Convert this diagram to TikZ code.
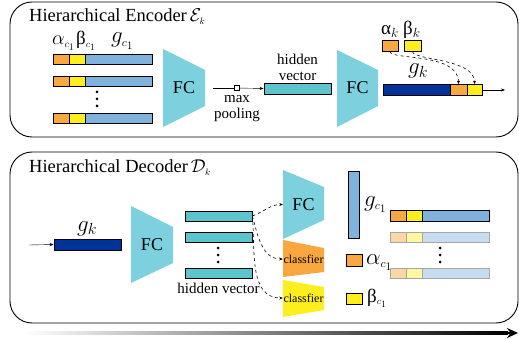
\RequirePackage{fix-cm}
\documentclass[tikz,border=0pt]{standalone}
\usepackage[dvipsnames]{xcolor}
\usepackage{tikz}
\usepackage{amsmath, amsfonts, amssymb}
\usepackage{fontspec}
\setmainfont{Liberation Serif}
\usetikzlibrary{arrows.meta}
\definecolor{barorange}{RGB}{249,167,62}
\definecolor{baryellow}{RGB}{255,238,30}
\definecolor{barblue}{RGB}{127,178,220}
\definecolor{hidteal}{RGB}{92,196,204}
\definecolor{fccyan}{RGB}{125,208,221}
\definecolor{gkblue}{RGB}{0,51,153}
\definecolor{lorange}{RGB}{253,214,165}
\definecolor{lyellow}{RGB}{255,247,160}
\definecolor{lblue}{RGB}{198,220,240}

\begin{document}
\begin{tikzpicture}[x=1pt,y=-1pt]
					\tikzstyle{seg}=[draw=black,line width=0.8pt,inner sep=0pt,minimum height=10pt]
					\tikzstyle{fade}=[draw=black!35,line width=0.8pt,inner sep=0pt,minimum height=10pt]
					\tikzstyle{frame}=[draw=black,line width=0.9pt,rounded corners=22pt]
					\tikzstyle{fcbox}=[inner sep=0pt,font=\fontsize{18}{20}\selectfont]
					\tikzstyle{lbl}=[inner sep=0pt,anchor=base west,font=\fontsize{19}{22}\selectfont]
					\tikzstyle{mlbl}=[inner sep=0pt,anchor=base west,font=\fontsize{23}{26}\selectfont]
					\tikzstyle{txt}=[inner sep=0pt,align=center,font=\fontsize{15}{16}\selectfont]
					\tikzstyle{flow}=[dashed,line width=0.6pt,-{Stealth[length=3.5pt,width=3pt]}]
					\useasboundingbox (0,0) rectangle (519,339);
					\draw[frame] (10,2) rectangle (518,137);
					\draw[frame] (10,152) rectangle (518,323);
					\node[lbl,font=\fontsize{18.5}{22}\selectfont](enctitle) at (29,22) {Hierarchical Encoder$\,\mathcal{E}_{\scriptscriptstyle k}$};
					\node[lbl,font=\fontsize{18.5}{22}\selectfont](dectitle) at (29,173) {Hierarchical Decoder$\,\mathcal{D}_{\scriptscriptstyle k}$};
					\node[seg,fill=barorange,minimum width=16pt](ea1) at (61,59) {};
					\node[seg,fill=baryellow,minimum width=16pt](eb1) at (77,59) {};
					\node[seg,fill=barblue,minimum width=67pt](eg1) at (118.5,59) {};
					\node[seg,fill=barorange,minimum width=16pt](ea2) at (61,81) {};
					\node[seg,fill=baryellow,minimum width=16pt](eb2) at (77,81) {};
					\node[seg,fill=barblue,minimum width=67pt](eg2) at (118.5,81) {};
					\node[seg,fill=barorange,minimum width=16pt](ea3) at (61,118) {};
					\node[seg,fill=baryellow,minimum width=16pt](eb3) at (77,118) {};
					\node[seg,fill=barblue,minimum width=67pt](eg3) at (118.5,118) {};
					\fill (97,92) circle (1.5) (97,99) circle (1.5) (97,106) circle (1.5);
					\node[mlbl,font=\fontsize{20}{24}\selectfont](lac) at (52,45) {$\alpha_{\scriptscriptstyle c_1}$};
					\node[lbl](lbc) at (76,45) {β$_{\scriptscriptstyle c_1}$};
					\node[mlbl](lgc) at (111,43) {$g_{\scriptscriptstyle c_1}$};
					\fill[fccyan] (163,49) -- (205,70) -- (205,106) -- (163,127) -- cycle;
					\node[fcbox,minimum width=42pt](fc1) at (184,88) {FC};
					\node[draw,fill=white,inner sep=0pt,minimum size=5pt](pool) at (237,88) {};
					\node[txt](pooltxt) at (237,109) {max\\pooling};
					\node[seg,fill=hidteal,minimum width=67pt,minimum height=11pt](hid1) at (297.5,88.5) {};
					\node[txt](hidtxt) at (297.5,67) {hidden\\vector};
					\draw ([xshift=8pt]fc1.east) to (pool);
					\draw[-{Stealth[length=4pt,width=3pt]}] (pool) to (hid1.west);
					\fill[fccyan] (337,50) -- (378,70) -- (378,106) -- (337,127) -- cycle;
					\node[fcbox,minimum width=41pt](fc2) at (357.5,88) {FC};
					\node[seg,fill=gkblue,minimum width=67pt,minimum height=11pt](gk) at (416.5,90) {};
					\node[seg,fill=barorange,minimum width=17pt,minimum height=11pt](gka) at (458.5,90) {};
					\node[seg,fill=baryellow,minimum width=15pt,minimum height=11pt](gkb) at (474.5,90) {};
					\coordinate (encout) at (505,90);
					\draw[-{Stealth[length=4pt,width=3pt]}] (gkb.east) to (encout);
					\node[seg,fill=barorange,minimum width=16pt,minimum height=11pt](ak) at (390,45.5) {};
					\node[seg,fill=baryellow,minimum width=17pt,minimum height=11pt](bk) at (412.5,45.5) {};
					\node[lbl](lak) at (381,35) {α$_k$};
					\node[lbl](lbk) at (403,35) {β$_k$};
					\node[mlbl](lgk) at (408,74) {$g_k$};
					\draw[flow] (ak.south) .. controls +(0,9) and +(0,-32) .. (gka.north);
					\draw[flow] (bk.south) .. controls +(0,9) and +(0,-26) .. (gkb.north);
					\coordinate (decin) at (29,245);
					\node[seg,fill=gkblue,minimum width=67pt,minimum height=11pt](gkd) at (87.5,244.5) {};
					\draw[-{Stealth[length=4pt,width=3pt]}] (decin) to (gkd.west);
					\node[mlbl](lgkd) at (77,231) {$g_k$};
					\fill[fccyan] (131,206) -- (173,227) -- (173,263) -- (131,283) -- cycle;
					\node[fcbox,minimum width=42pt](fc3) at (152,245) {FC};
					\node[seg,fill=hidteal,minimum width=67pt](hd1) at (218.5,216) {};
					\node[seg,fill=hidteal,minimum width=67pt](hd2) at (218.5,237) {};
					\node[seg,fill=hidteal,minimum width=67pt](hd3) at (218.5,273) {};
					\fill (218,248) circle (1.5) (218,255) circle (1.5) (218,262) circle (1.5);
					\node[txt,anchor=base](hdtxt) at (218.5,293) {hidden vector};
					\fill[fccyan] (283,170) -- (324,187) -- (324,220) -- (283,239) -- cycle;
					\node[fcbox,minimum width=41pt](fc4) at (303.5,204.5) {FC};
					\fill[barorange] (283,240) -- (324,248) -- (324,272) -- (283,277) -- cycle;
					\node[inner sep=0pt,minimum width=41pt,font=\fontsize{12}{14}\selectfont](cls1) at (303.5,259) {classfier};
					\fill[baryellow] (283,280) -- (324,287) -- (324,310) -- (283,317) -- cycle;
					\node[inner sep=0pt,minimum width=41pt,font=\fontsize{12}{14}\selectfont](cls2) at (303.5,298) {classfier};
					\draw[flow] (hd1.east) to [out=20,in=180] (fc4.west);
					\draw[flow] (hd1.east) to [out=-75,in=180] (cls1.west);
					\draw[flow] (hd1.east) to [out=-85,in=180] (cls2.west);
					\node[seg,fill=barblue,minimum width=11pt,minimum height=67pt](gc) at (353.5,204.5) {};
					\node[mlbl](lgcd) at (364,206) {$g_{\scriptscriptstyle c_1}$};
					\node[seg,fill=barorange,minimum width=16pt,minimum height=12pt](ac) at (354,260) {};
					\node[mlbl](lacd) at (366,264) {$\alpha_{\scriptscriptstyle c_1}$};
					\node[seg,fill=baryellow,minimum width=16pt,minimum height=11pt](bc) at (354,298.5) {};
					\node[lbl](lbcd) at (367,302) {β$_{\scriptscriptstyle c_1}$};
					\node[seg,fill=barorange,minimum width=16pt,minimum height=11pt](ra1) at (398,215.5) {};
					\node[seg,fill=baryellow,minimum width=16pt,minimum height=11pt](rb1) at (414,215.5) {};
					\node[seg,fill=barblue,minimum width=67pt,minimum height=11pt](rg1) at (455.5,215.5) {};
					\node[fade,fill=lorange,minimum width=16pt](ra2) at (398,237) {};
					\node[fade,fill=lyellow,minimum width=16pt](rb2) at (414,237) {};
					\node[fade,fill=lblue,minimum width=67pt](rg2) at (455.5,237) {};
					\node[fade,fill=lorange,minimum width=16pt](ra3) at (398,273) {};
					\node[fade,fill=lyellow,minimum width=16pt](rb3) at (414,273) {};
					\node[fade,fill=lblue,minimum width=67pt](rg3) at (455.5,273) {};
					\fill (440,248) circle (1.5) (440,255) circle (1.5) (440,262) circle (1.5);
					\coordinate (tstart) at (25,333);
					\coordinate (tend) at (518,333);
					\shade[left color=white,right color=black] (25,331.7) rectangle (508,334.3);
					\draw[line width=2.6pt,-{Stealth[length=11pt,width=10pt]}] ([xshift=-12pt]tend) to (tend);
				\end{tikzpicture}
\end{document}
